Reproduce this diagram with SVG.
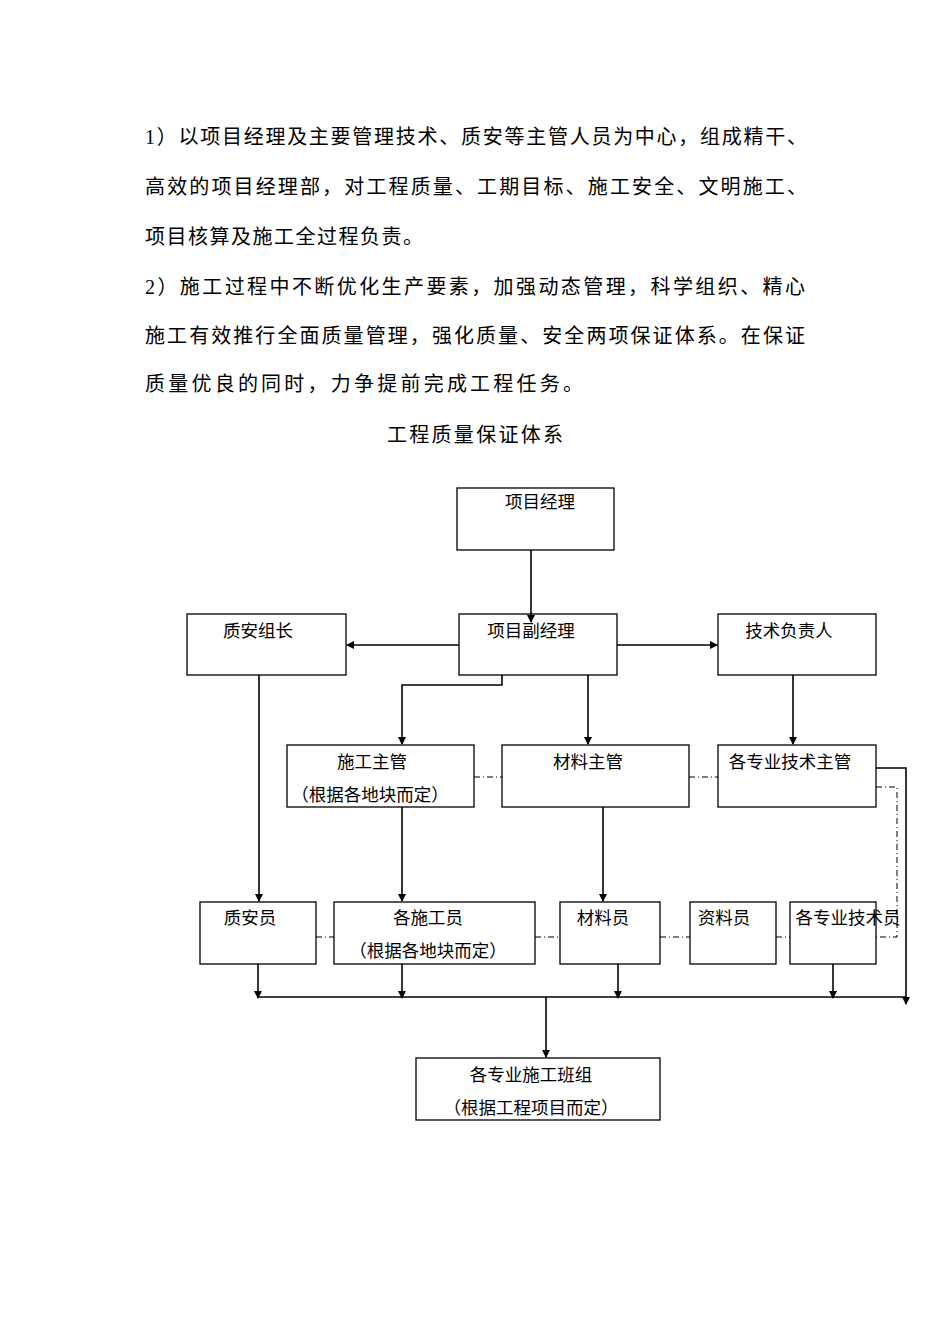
<svg xmlns="http://www.w3.org/2000/svg" width="950" height="1344" viewBox="0 0 950 1344">
<defs>
<style>
text{font-family:"Liberation Serif","Noto Sans CJK SC",serif;fill:#000}
.p{font-size:20px}
.b{font-size:17.5px}
rect{fill:#fff;stroke:#000;stroke-width:1.3}
.l{stroke:#000;stroke-width:1.6;fill:none}
.d{stroke:#000;stroke-width:1;fill:none;stroke-dasharray:6 3 1 3}
</style>
<marker id="a" markerWidth="8" markerHeight="8" refX="7" refY="4" orient="auto" markerUnits="userSpaceOnUse"><path d="M0,0L8,4L0,8z" fill="#000"/></marker>
</defs>
<rect x="0" y="0" width="950" height="1344" style="stroke:none"/>
<text class="p" x="145" y="144" textLength="662" lengthAdjust="spacing">1）以项目经理及主要管理技术、质安等主管人员为中心，组成精干、</text>
<text class="p" x="145" y="194" textLength="662" lengthAdjust="spacing">高效的项目经理部，对工程质量、工期目标、施工安全、文明施工、</text>
<text class="p" x="145" y="244" textLength="278" lengthAdjust="spacing">项目核算及施工全过程负责。</text>
<text class="p" x="145" y="294" textLength="660" lengthAdjust="spacing">2）施工过程中不断优化生产要素，加强动态管理，科学组织、精心</text>
<text class="p" x="145" y="343" textLength="660" lengthAdjust="spacing">施工有效推行全面质量管理，强化质量、安全两项保证体系。在保证</text>
<text class="p" x="145" y="391" textLength="438" lengthAdjust="spacing">质量优良的同时，力争提前完成工程任务。</text>
<text class="p" x="387" y="442" textLength="176" lengthAdjust="spacing">工程质量保证体系</text>
<g id="n1"><rect x="457" y="488" width="157" height="62"/><text class="b" x="540" y="508" text-anchor="middle">项目经理</text></g>
<g id="n2"><rect x="187" y="614" width="159" height="61"/><text class="b" x="258" y="637" text-anchor="middle">质安组长</text></g>
<g id="n3"><rect x="459" y="614" width="158" height="61"/><text class="b" x="531" y="637" text-anchor="middle">项目副经理</text></g>
<g id="n4"><rect x="718" y="614" width="158" height="61"/><text class="b" x="789" y="637" text-anchor="middle">技术负责人</text></g>
<g id="n5"><rect x="287" y="745" width="187" height="62"/><text class="b" x="372" y="768" text-anchor="middle">施工主管</text><text class="b" x="370" y="801" text-anchor="middle">（根据各地块而定）</text></g>
<g id="n6"><rect x="502" y="745" width="187" height="62"/><text class="b" x="588" y="768" text-anchor="middle">材料主管</text></g>
<g id="n7"><rect x="718" y="745" width="158" height="62"/><text class="b" x="790" y="768" text-anchor="middle">各专业技术主管</text></g>
<g id="n8"><rect x="200" y="902" width="116" height="62"/><text class="b" x="250" y="924" text-anchor="middle">质安员</text></g>
<g id="n9"><rect x="334" y="902" width="201" height="62"/><text class="b" x="428" y="924" text-anchor="middle">各施工员</text><text class="b" x="428" y="957" text-anchor="middle">（根据各地块而定）</text></g>
<g id="n10"><rect x="560" y="902" width="100" height="62"/><text class="b" x="603" y="924" text-anchor="middle">材料员</text></g>
<g id="n11"><rect x="690" y="902" width="86" height="62"/><text class="b" x="724" y="924" text-anchor="middle">资料员</text></g>
<g id="n12"><rect x="790" y="902" width="86" height="62"/><text class="b" x="848" y="924" text-anchor="middle">各专业技术员</text></g>
<g id="n13"><rect x="416" y="1058" width="244" height="62"/><text class="b" x="531" y="1081" text-anchor="middle">各专业施工班组</text><text class="b" x="531" y="1114" text-anchor="middle">（根据工程项目而定）</text></g>
<g id="connectors">
<path class="l" d="M531,550V622" marker-end="url(#a)"/>
<path class="l" d="M459,645H347" marker-end="url(#a)"/>
<path class="l" d="M617,645H717" marker-end="url(#a)"/>
<path class="l" d="M502,675V685H402V744" marker-end="url(#a)"/>
<path class="l" d="M588,675V744" marker-end="url(#a)"/>
<path class="l" d="M793,675V744" marker-end="url(#a)"/>
<path class="l" d="M259,675V901" marker-end="url(#a)"/>
<path class="l" d="M402,807V901" marker-end="url(#a)"/>
<path class="l" d="M603,807V901" marker-end="url(#a)"/>
<path class="l" d="M876,768H906V1004" marker-end="url(#a)"/>
<path class="l" d="M258,964V998" marker-end="url(#a)"/>
<path class="l" d="M402,964V998" marker-end="url(#a)"/>
<path class="l" d="M618,964V998" marker-end="url(#a)"/>
<path class="l" d="M833,964V998" marker-end="url(#a)"/>
<path class="l" d="M258,997H906"/>
<path class="l" d="M546,997V1057" marker-end="url(#a)"/>
<path class="d" d="M474,777H502M689,777H718M876,787H897V937H876"/>
<path class="d" d="M316,937H334M535,937H560M660,937H690M776,937H790"/>
</g>
</svg>
